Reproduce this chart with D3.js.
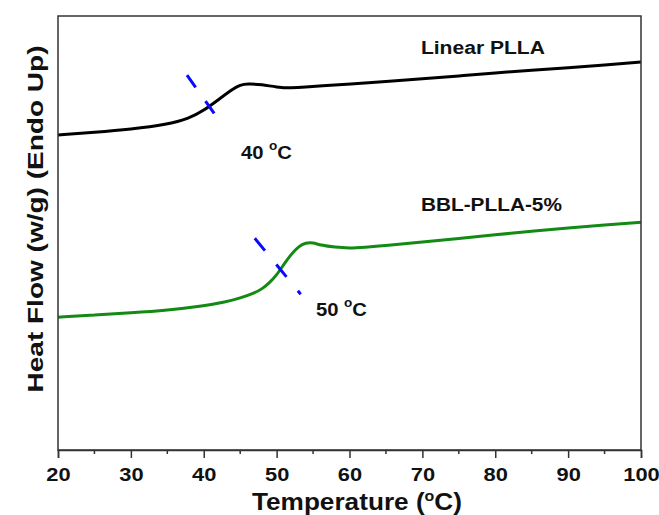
<!DOCTYPE html>
<html>
<head>
    <meta charset="utf-8">
    <title></title>
    <style>
        body { margin: 0; background: #fff; }
        text {
            font-family: Arial, "Liberation Sans", sans-serif;
            font-weight: bold;
            fill: #111;
        }
    </style>
</head>
<body>
    <script src="https://cdn.jsdelivr.net/npm/d3@7/dist/d3.min.js"></script>
    <script>
        // DSC traces, heat flow in arbitrary units (endo up)
        var linearTemp = [20, 25, 30, 35, 38, 40, 42, 44, 45, 46, 48, 50, 52, 54, 56, 60, 65, 70, 75, 80, 85, 90, 95, 100];
        var linearFlow = [7.26, 7.32, 7.39, 7.50, 7.64, 7.82, 8.07, 8.32, 8.41, 8.44, 8.42, 8.36, 8.34, 8.36, 8.39, 8.43, 8.49, 8.55, 8.62, 8.69, 8.75, 8.81, 8.87, 8.94];
        var bblTemp = [20, 25, 30, 35, 40, 43, 45, 47, 48, 49, 50, 51, 52, 53, 54, 55, 56, 58, 60, 62, 65, 70, 75, 80, 85, 90, 95, 100];
        var bblFlow = [3.06, 3.11, 3.16, 3.22, 3.32, 3.41, 3.50, 3.62, 3.71, 3.85, 4.03, 4.28, 4.51, 4.69, 4.78, 4.78, 4.72, 4.67, 4.65, 4.67, 4.71, 4.79, 4.87, 4.96, 5.04, 5.12, 5.18, 5.25];
        // Tg tangent marks
        var linearTgT = [37.7, 41.5], linearTgF = [8.64, 7.74];
        var bblTgT = [47.0, 53.3], bblTgF = [4.88, 3.59];
        var xTicks = [20, 30, 40, 50, 60, 70, 80, 90, 100];
        var xMinor = [25, 35, 45, 55, 65, 75, 85, 95];

        var width = 659, height = 515;
        var margin = { left: 58, right: 18, top: 16, bottom: 65 };
        var x0 = margin.left, x1 = width - margin.right,
            y0 = margin.top, y1 = height - margin.bottom;

        var x = d3.scaleLinear().domain([20, 100]).range([x0, x1]);
        var y = d3.scaleLinear().domain([0, 10]).range([y1, y0]);

        var svg = d3.select("body").append("svg")
            .attr("width", width)
            .attr("height", height);

        svg.append("rect")
            .attr("width", width).attr("height", height)
            .attr("fill", "#fff");

        // squeeze / stretch a text to a given length
        function fitTo(sel, len) {
            sel.attr("textLength", len).attr("lengthAdjust", "spacingAndGlyphs");
        }
        function stretch(sel, f) {
            sel.each(function() {
                var len = this.getComputedTextLength();
                d3.select(this).attr("textLength", len * f).attr("lengthAdjust", "spacingAndGlyphs");
            });
        }

        var line = d3.line()
            .x(function(d) { return x(d[0]); })
            .y(function(d) { return y(d[1]); })
            .curve(d3.curveBasis);

        svg.append("path")
            .datum(d3.zip(linearTemp, linearFlow))
            .attr("d", line)
            .attr("fill", "none")
            .attr("stroke", "#000")
            .attr("stroke-width", 3);

        svg.append("path")
            .datum(d3.zip(bblTemp, bblFlow))
            .attr("d", line)
            .attr("fill", "none")
            .attr("stroke", "#138a13")
            .attr("stroke-width", 3);

        [[linearTgT, linearTgF, "15,17"], [bblTgT, bblTgF, "16,18"]].forEach(function(t) {
            svg.append("line")
                .attr("x1", x(t[0][0])).attr("y1", y(t[1][0]))
                .attr("x2", x(t[0][1])).attr("y2", y(t[1][1]))
                .attr("stroke", "#0a0aff")
                .attr("stroke-width", 3)
                .attr("stroke-dasharray", t[2]);
        });

        // frame
        svg.append("rect")
            .attr("x", x0).attr("y", y0)
            .attr("width", x1 - x0).attr("height", y1 - y0)
            .attr("fill", "none")
            .attr("stroke", "#333")
            .attr("stroke-width", 1.5);

        var xAxis = svg.append("g")
            .attr("transform", "translate(0," + y1 + ")")
            .call(d3.axisBottom(x).tickValues(xTicks).tickSize(8).tickPadding(10).tickFormat(d3.format("d")));
        xAxis.select(".domain").attr("stroke", "#333").attr("stroke-width", 1.5);
        xAxis.selectAll(".tick line").attr("stroke", "#333").attr("stroke-width", 1.5);
        xAxis.selectAll(".tick text")
            .attr("font-size", 19)
            .attr("font-family", "Arial, 'Liberation Sans', sans-serif")
            .attr("fill", "#111");
        stretch(xAxis.selectAll(".tick text"), 1.15);

        svg.append("g").selectAll("line")
            .data(xMinor)
            .enter().append("line")
            .attr("x1", function(d) { return x(d); })
            .attr("x2", function(d) { return x(d); })
            .attr("y1", y1).attr("y2", y1 + 4)
            .attr("stroke", "#333").attr("stroke-width", 1.5);

        // axis titles
        var xt = svg.append("text")
            .attr("x", 357).attr("y", 510)
            .attr("text-anchor", "middle")
            .attr("font-size", 23);
        xt.append("tspan").text("Temperature  (");
        xt.append("tspan").attr("dy", -9).attr("font-size", 14).text("o");
        xt.append("tspan").attr("dy", 9).text("C)");
        fitTo(xt, 210);

        var yt = svg.append("text")
            .attr("transform", "translate(43,219) rotate(-90)")
            .attr("text-anchor", "middle")
            .attr("font-size", 22)
            .text("Heat Flow (w/g) (Endo Up)");
        fitTo(yt, 347);

        // labels
        var l1 = svg.append("text").attr("x", x(69.8)).attr("y", y(9.12)).attr("font-size", 18).text("Linear PLLA");
        fitTo(l1, 124);
        var l2 = svg.append("text").attr("x", x(69.8)).attr("y", y(5.50)).attr("font-size", 18).text("BBL-PLLA-5%");
        fitTo(l2, 141);

        function tgLabel(t, v, s) {
            var tx = svg.append("text").attr("x", x(t)).attr("y", y(v)).attr("font-size", 18);
            tx.append("tspan").text(s + " ");
            tx.append("tspan").attr("dy", -9).attr("font-size", 12).text("o");
            tx.append("tspan").attr("dy", 9).text("C");
            fitTo(tx, 51);
        }
        tgLabel(45.1, 6.71, "40");
        tgLabel(55.4, 3.09, "50");
    </script>
</body>
</html>
